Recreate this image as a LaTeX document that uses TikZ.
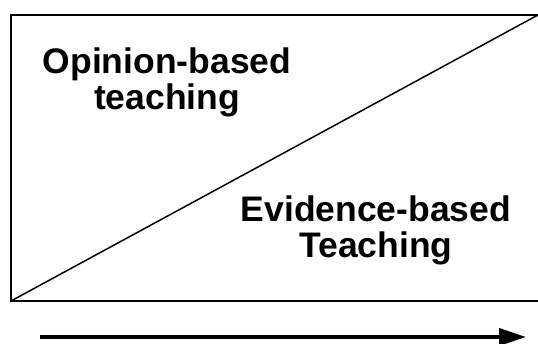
\documentclass[tikz,border=0pt]{standalone}
\usepackage{fontspec}
\setmainfont{Liberation Sans}
\usetikzlibrary{arrows.meta}
\definecolor{Ink}{HTML}{000000}
\tikzset{
  frame/.style={draw=Ink, line width=2pt},
  divide/.style={draw=Ink, line width=1.5pt},
  zonetext/.style={
    align=center, inner sep=0pt, anchor=north, text=Ink,
    font=\fontsize{35.5}{36}\selectfont\bfseries
  },
  progress/.style={-{Triangle[length=27pt, width=17pt]}, line width=4pt, draw=Ink}
}

\begin{document}
\begin{tikzpicture}[x=1pt,y=-1pt]
        \useasboundingbox (0,0) rectangle (538,344);
        \coordinate (bl) at (11,301);
        \coordinate (tr) at (538,15);
        \draw[frame] (11,15) rectangle (541,301);
        \draw[divide] (bl)--(tr);
        \node[zonetext] (opinion) at (167,48) {Opinion-based\\teaching};
        \node[zonetext] (evidence) at (376,196) {Evidence-based\\Teaching};
        \coordinate (start) at (40,337);
        \coordinate (finish) at (526,337);
        \draw[progress] (start)--(finish);
      \end{tikzpicture}
\end{document}
